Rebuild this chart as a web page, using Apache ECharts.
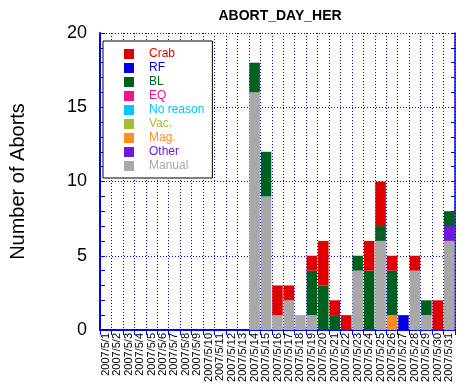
<!DOCTYPE html>
<html>
<head>
<meta charset="utf-8">
<script src="https://cdn.jsdelivr.net/npm/echarts@6/dist/echarts.min.js"></script>
<style>html,body{margin:0;padding:0;background:#fff;}#c{width:467px;height:392px;}</style>
</head>
<body>
<div id="c"></div>
<script>
var days = ['2007/5/1','2007/5/2','2007/5/3','2007/5/4','2007/5/5','2007/5/6','2007/5/7','2007/5/8','2007/5/9','2007/5/10',
  '2007/5/11','2007/5/12','2007/5/13','2007/5/14','2007/5/15','2007/5/16','2007/5/17','2007/5/18','2007/5/19','2007/5/20',
  '2007/5/21','2007/5/22','2007/5/23','2007/5/24','2007/5/25','2007/5/26','2007/5/27','2007/5/28','2007/5/29','2007/5/30','2007/5/31'];
//                1 2 3 4 5 6 7 8 9 10 11 12 13 14 15 16 17 18 19 20 21 22 23 24 25 26 27 28 29 30 31
var manual   = [0,0,0,0,0,0,0,0,0,0, 0, 0, 0,16, 9, 1, 2, 1, 1, 0, 0, 0, 4, 0, 6, 0, 0, 4, 1, 0, 6];
var other    = [0,0,0,0,0,0,0,0,0,0, 0, 0, 0, 0, 0, 0, 0, 0, 0, 0, 0, 0, 0, 0, 0, 0, 0, 0, 0, 0, 1];
var mag      = [0,0,0,0,0,0,0,0,0,0, 0, 0, 0, 0, 0, 0, 0, 0, 0, 0, 0, 0, 0, 0, 0, 1, 0, 0, 0, 0, 0];
var vac      = [0,0,0,0,0,0,0,0,0,0, 0, 0, 0, 0, 0, 0, 0, 0, 0, 0, 0, 0, 0, 0, 0, 0, 0, 0, 0, 0, 0];
var noreason = [0,0,0,0,0,0,0,0,0,0, 0, 0, 0, 0, 0, 0, 0, 0, 0, 0, 0, 0, 0, 0, 0, 0, 0, 0, 0, 0, 0];
var eq       = [0,0,0,0,0,0,0,0,0,0, 0, 0, 0, 0, 0, 0, 0, 0, 0, 0, 0, 0, 0, 0, 0, 0, 0, 0, 0, 0, 0];
var bl       = [0,0,0,0,0,0,0,0,0,0, 0, 0, 0, 2, 3, 0, 0, 0, 3, 3, 1, 0, 1, 4, 1, 3, 0, 0, 1, 0, 1];
var rf       = [0,0,0,0,0,0,0,0,0,0, 0, 0, 0, 0, 0, 0, 0, 0, 0, 0, 0, 0, 0, 0, 0, 0, 1, 0, 0, 0, 0];
var crab     = [0,0,0,0,0,0,0,0,0,0, 0, 0, 0, 0, 0, 2, 1, 0, 1, 3, 1, 1, 0, 2, 3, 1, 0, 1, 0, 2, 0];
var yTicks = [0, 5, 10, 15, 20];

var seriesDefs = [
  {name:'Manual', data:manual, color:'#a8a8a8'},
  {name:'Other', data:other, color:'#7018d8'},
  {name:'Mag.', data:mag, color:'#ff8c1e'},
  {name:'Vac.', data:vac, color:'#a0c030'},
  {name:'No reason', data:noreason, color:'#00c8ff'},
  {name:'EQ', data:eq, color:'#f0148c'},
  {name:'BL', data:bl, color:'#006020'},
  {name:'RF', data:rf, color:'#0000e0'},
  {name:'Crab', data:crab, color:'#e00000'}
];
var legendOrder = ['Crab','RF','BL','EQ','No reason','Vac.','Mag.','Other','Manual'];
var colorOf = {};
seriesDefs.forEach(function(s){ colorOf[s.name] = s.color; });

var blue = '#0000ff';
var FONT = 'Liberation Sans, Arial, sans-serif';

var chart = echarts.init(document.getElementById('c'), null, {renderer:'canvas'});
chart.setOption({
  animation: false,
  backgroundColor: '#fff',
  title: {
    text: 'ABORT_DAY_HER', left: 275, top: 4, textAlign: 'center',
    textStyle: {fontFamily: FONT, fontSize: 14, fontWeight: 'bold', color: '#000'}
  },
  legend: {
    orient: 'vertical', left: 103, top: 41,
    selectedMode: false,
    backgroundColor: '#fff', borderColor: '#000', borderWidth: 1,
    padding: [7, 8, 6, 21],
    itemWidth: 10, itemHeight: 10, itemGap: 2,
    icon: 'rect',
    textStyle: {fontFamily: FONT, fontSize: 12, lineHeight: 12, padding: [0,0,0,10]},
    data: legendOrder.map(function(n){ return {name: n, itemStyle:{color: colorOf[n]}, textStyle: {color: colorOf[n]}}; }),
    z: 10
  },
  grid: {left: 96, right: 12, top: 33, bottom: 62},
  xAxis: [
    {
      type: 'category', data: days, position: 'bottom',
      axisLine: {lineStyle: {color: blue, width: 2}},
      axisTick: {show: false},
      axisLabel: {interval: 0, rotate: 90, margin: 3, fontFamily: FONT, fontSize: 11, color: '#000'},
      splitLine: {show: true, interval: 0, lineStyle: {color: blue, type: [1, 2], width: 1}}
    },
    {
      type: 'category', data: days, position: 'top',
      axisLine: {lineStyle: {color: blue, width: 1.5}},
      axisTick: {show: true, inside: true, interval: 0, length: 5, lineStyle: {color: blue, width: 1}},
      axisLabel: {show: false},
      splitLine: {show: false}
    }
  ],
  yAxis: [
    {
      type: 'value', min: yTicks[0], max: yTicks[yTicks.length-1], interval: 5, position: 'left',
      name: 'Number of Aborts', nameLocation: 'middle', nameGap: 72,
      nameTextStyle: {fontFamily: FONT, fontSize: 20, color: '#000'},
      axisLine: {show: true, lineStyle: {color: blue, width: 2}},
      axisTick: {show: true, inside: true, length: 5, lineStyle: {color: blue, width: 1}},
      minorTick: {show: true, splitNumber: 5, length: 5, lineStyle: {color: blue, width: 1}},
      axisLabel: {margin: 13, fontFamily: FONT, fontSize: 18, color: '#000'},
      splitLine: {show: true, lineStyle: {color: blue, type: [1, 2], width: 1}}
    },
    {
      type: 'value', min: yTicks[0], max: yTicks[yTicks.length-1], interval: 5, position: 'right',
      axisLine: {show: true, lineStyle: {color: blue, width: 1.5}},
      axisTick: {show: true, inside: true, length: 4, lineStyle: {color: blue, width: 1}},
      minorTick: {show: true, splitNumber: 5, length: 4, lineStyle: {color: blue, width: 1}},
      axisLabel: {show: false},
      splitLine: {show: false}
    }
  ],
  series: seriesDefs.map(function(s){
    return {
      name: s.name, type: 'bar', stack: 'total', data: s.data,
      xAxisIndex: 0, yAxisIndex: 0,
      barCategoryGap: '8%',
      itemStyle: {color: s.color},
      emphasis: {disabled: true}
    };
  })
});
</script>
</body>
</html>
